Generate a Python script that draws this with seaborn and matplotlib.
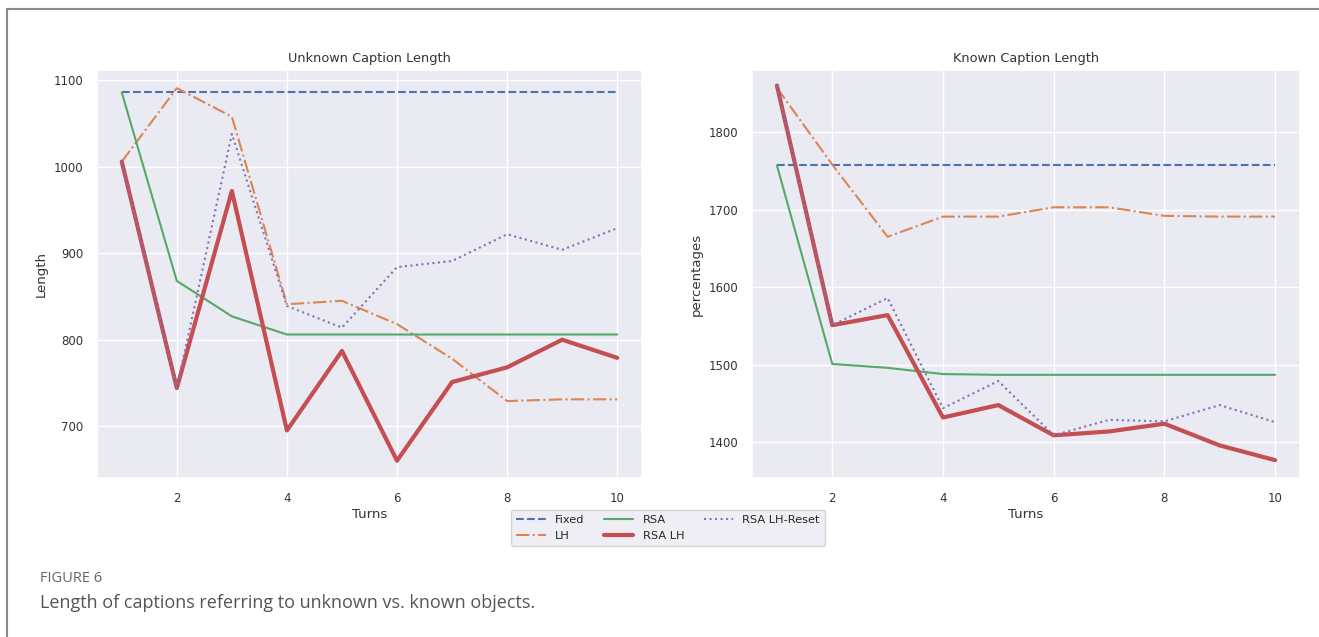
import matplotlib
matplotlib.use("Agg")
import matplotlib.pyplot as plt
from matplotlib.patches import Rectangle
import seaborn as sns
import pandas as pd

turns = [1, 2, 3, 4, 5, 6, 7, 8, 9, 10]

# Unknown objects: caption length per turn
unk_fixed = [1086, 1086, 1086, 1086, 1086, 1086, 1086, 1086, 1086, 1086]
unk_lh = [1006, 1091, 1058, 841, 845, 818, 778, 729, 731, 731]
unk_rsa = [1086, 868, 827, 806, 806, 806, 806, 806, 806, 806]
unk_rsa_lh = [1006, 744, 972, 695, 787, 660, 751, 768, 800, 779]
unk_rsa_lh_reset = [1006, 744, 1038, 839, 814, 884, 891, 922, 904, 929]

# Known objects: caption length per turn
kn_fixed = [1757, 1757, 1757, 1757, 1757, 1757, 1757, 1757, 1757, 1757]
kn_lh = [1857, 1758, 1665, 1691, 1691, 1703, 1703, 1692, 1691, 1691]
kn_rsa = [1757, 1501, 1496, 1488, 1487, 1487, 1487, 1487, 1487, 1487]
kn_rsa_lh = [1860, 1551, 1564, 1432, 1448, 1409, 1414, 1424, 1396, 1377]
kn_rsa_lh_reset = [1860, 1551, 1586, 1444, 1479, 1409, 1429, 1427, 1448, 1426]

series_names = ["Fixed", "LH", "RSA", "RSA LH", "RSA LH-Reset"]

sns.set_theme(style="darkgrid")
pal = sns.color_palette("deep")
styles = {
    "Fixed": dict(color=pal[0], linestyle="--", linewidth=1.5),
    "LH": dict(color=pal[1], linestyle="-.", linewidth=1.5),
    "RSA": dict(color=pal[2], linestyle="-", linewidth=1.5),
    "RSA LH": dict(color=pal[3], linestyle="-", linewidth=3.0),
    "RSA LH-Reset": dict(color=pal[4], linestyle=":", linewidth=1.5),
}

fig = plt.figure(figsize=(13.19, 6.37), dpi=100)
W, H = 1319, 637


def add_ax(x0, y0, x1, y1):
    return fig.add_axes([x0 / W, 1 - y1 / H, (x1 - x0) / W, (y1 - y0) / H])


ax1 = add_ax(97, 70, 642, 478)
ax2 = add_ax(752, 70, 1300, 478)

panels = [
    (ax1, [unk_fixed, unk_lh, unk_rsa, unk_rsa_lh, unk_rsa_lh_reset],
     "Unknown Caption Length", "Length", (640, 1112), [700, 800, 900, 1000, 1100]),
    (ax2, [kn_fixed, kn_lh, kn_rsa, kn_rsa_lh, kn_rsa_lh_reset],
     "Known Caption Length", "percentages", (1354, 1880), [1400, 1500, 1600, 1700, 1800]),
]

for ax, values, title, ylabel, ylim, yticks in panels:
    for name, vals in zip(series_names, values):
        df = pd.DataFrame({"Turns": turns, "v": vals})
        sns.lineplot(data=df, x="Turns", y="v", ax=ax, label=name, **styles[name])
    ax.set_title(title, fontsize=9.3, color="#333333", pad=6)
    ax.set_xlabel("Turns", fontsize=9.5, color="#333333", labelpad=2)
    ax.set_ylabel(ylabel, fontsize=9.5, color="#333333")
    ax.set_ylim(*ylim)
    ax.set_yticks(yticks)
    ax.set_xlim(0.55, 10.45)
    ax.set_xticks([2, 4, 6, 8, 10])
    ax.tick_params(labelsize=8.5, colors="#333333", pad=4)
    ax.get_legend().remove()

handles, labels = ax1.get_legend_handles_labels()
fig.legend(handles, labels, loc="upper center", ncol=3,
           bbox_to_anchor=(668 / W, 1 - 504 / H), fontsize=8.2,
           frameon=True, handlelength=2.6, columnspacing=1.7,
           borderpad=0.45, labelspacing=0.5)

# outer frame
fig.patches.append(Rectangle((7 / W, -0.1), 1.2, 1 - 9 / H + 0.1,
                             transform=fig.transFigure, fill=False,
                             edgecolor="#8a8a8a", linewidth=1.5))

fig.text(40 / W, 1 - 579 / H, "FIGURE 6", fontsize=10.5, color="#666666",
         family="Open Sans", va="center", ha="left")
fig.text(40 / W, 1 - 603 / H, "Length of captions referring to unknown vs. known objects.",
         fontsize=13, color="#555555", family="Open Sans", va="center", ha="left")

fig.savefig("out.png", dpi=100)
